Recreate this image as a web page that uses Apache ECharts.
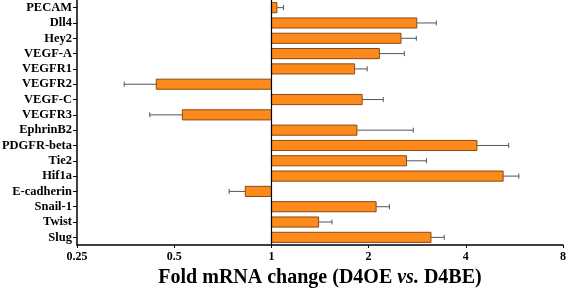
<!DOCTYPE html>
<html>
<head>
<meta charset="utf-8">
<script src="https://cdn.jsdelivr.net/npm/echarts@6/dist/echarts.min.js"></script>
<style>
  html, body { margin: 0; padding: 0; background: #fff; }
  #chart { width: 567px; height: 288px; }
</style>
</head>
<body>
<div id="chart"></div>
<script>
// genes, top to bottom
var genes = ['PECAM', 'Dll4', 'Hey2', 'VEGF-A', 'VEGFR1', 'VEGFR2', 'VEGF-C', 'VEGFR3',
  'EphrinB2', 'PDGFR-beta', 'Tie2', 'Hif1a', 'E-cadherin', 'Snail-1', 'Twist', 'Slug'];
// fold change (D4OE vs D4BE)
var foldChange = [1.04, 2.82, 2.52, 2.16, 1.81, 0.44, 1.91, 0.53,
  1.84, 4.33, 2.62, 5.22, 0.83, 2.11, 1.40, 3.12];
// error (same units as fold change), drawn away from 1
var foldErr = [0.05, 0.42, 0.29, 0.42, 0.17, 0.09, 0.31, 0.11,
  0.91, 1.10, 0.40, 0.62, 0.09, 0.21, 0.14, 0.31];
var xTicks = [0.25, 0.5, 1, 2, 4, 8];

var serif = '"Liberation Serif", "Times New Roman", serif';

var chart = echarts.init(document.getElementById('chart'));

var data = genes.map(function (g, i) {
  return [foldChange[i], i, foldErr[i]];
});

function renderBar(params, api) {
  var v = api.value(0);
  var idx = api.value(1);
  var err = api.value(2);
  var base = api.coord([1, idx]);
  var end = api.coord([v, idx]);
  var errEnd = api.coord([v >= 1 ? v + err : v - err, idx]);
  var band = api.size([0, 1])[1];
  var h = band * 0.66;
  var x0 = Math.min(base[0], end[0]);
  var w = Math.abs(end[0] - base[0]);
  var cap = 2.5;
  return {
    type: 'group',
    children: [
      {
        type: 'line',
        shape: { x1: end[0], y1: end[1], x2: errEnd[0], y2: errEnd[1] },
        style: { stroke: '#555', lineWidth: 1 }
      },
      {
        type: 'line',
        shape: { x1: errEnd[0], y1: errEnd[1] - cap, x2: errEnd[0], y2: errEnd[1] + cap },
        style: { stroke: '#555', lineWidth: 1 }
      },
      {
        type: 'rect',
        shape: { x: x0, y: base[1] - h / 2, width: w, height: h },
        style: { fill: '#FF8A1C', stroke: '#8a4a14', lineWidth: 1 }
      }
    ]
  };
}

var option = {
  animation: false,
  grid: { left: 77, right: 4, top: 0, bottom: 43, containLabel: false, outerBoundsMode: 'none' },
  xAxis: {
    type: 'log',
    logBase: 2,
    min: 0.25,
    max: 8,
    splitNumber: 5,
    splitLine: { show: false },
    axisLine: { show: true, lineStyle: { color: '#000', width: 1.5 } },
    axisTick: { show: true, length: 3, lineStyle: { color: '#000' } },
    axisLabel: {
      color: '#000',
      fontFamily: serif,
      fontWeight: 'bold',
      fontSize: 12,
      margin: 6,
      formatter: function (v) {
        var best = xTicks.reduce(function (a, b) {
          return Math.abs(b - v) < Math.abs(a - v) ? b : a;
        });
        return String(best);
      }
    },
    name: '{b|Fold mRNA change (D4OE }{i|vs.}{b| D4BE)}',
    nameLocation: 'middle',
    nameGap: 20,
    nameTextStyle: {
      rich: {
        b: { fontFamily: serif, fontWeight: 'bold', fontSize: 20, color: '#000' },
        i: { fontFamily: serif, fontWeight: 'bold', fontStyle: 'italic', fontSize: 20, color: '#000' }
      }
    }
  },
  yAxis: {
    type: 'category',
    data: genes,
    inverse: true,
    axisLine: { show: true, lineStyle: { color: '#000', width: 1.5 } },
    axisTick: { show: true, alignWithLabel: true, interval: 0, length: 4, lineStyle: { color: '#000' } },
    axisLabel: {
      color: '#000',
      fontFamily: serif,
      fontWeight: 'bold',
      fontSize: 12.5,
      margin: 5,
      interval: 0
    },
    splitLine: { show: false }
  },
  series: [
    {
      type: 'custom',
      renderItem: renderBar,
      encode: { x: 0, y: 1 },
      data: data,
      clip: false,
      markLine: {
        silent: true,
        symbol: 'none',
        label: { show: false },
        lineStyle: { color: '#000', width: 1.2, type: 'solid' },
        data: [{ xAxis: 1 }]
      }
    }
  ]
};

chart.setOption(option);
</script>
</body>
</html>
